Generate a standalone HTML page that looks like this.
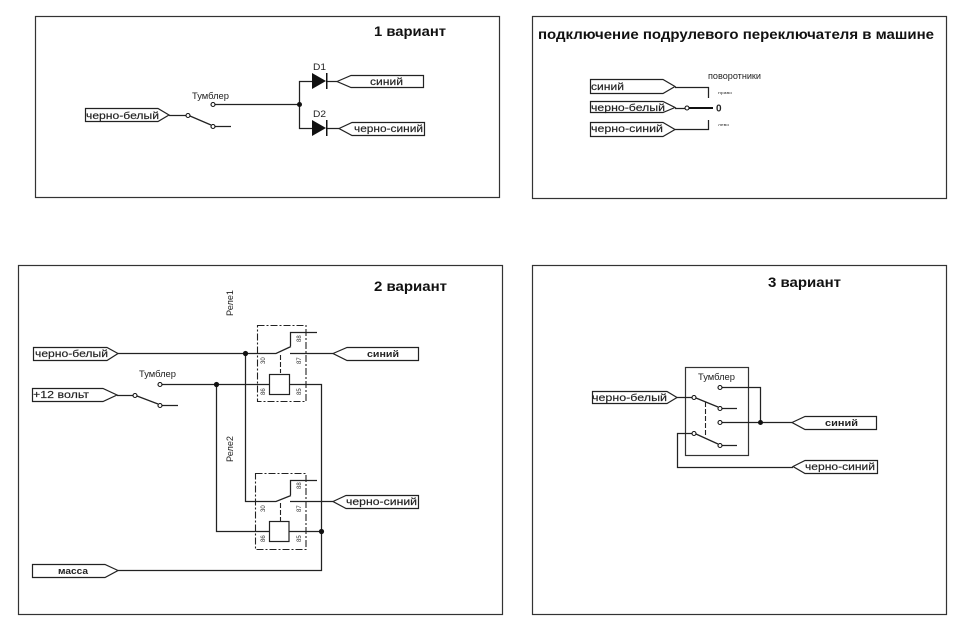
<!DOCTYPE html>
<html>
<head>
<meta charset="utf-8">
<style>
html,body{margin:0;padding:0;background:#fff;width:960px;height:630px;overflow:hidden}
svg{display:block}
text{font-family:"Liberation Sans",sans-serif;fill:#222}
.p{fill:none;stroke:#333;stroke-width:1.2}
.w{fill:none;stroke:#222;stroke-width:1.25}
.t{fill:#fff;stroke:#222;stroke-width:1.2}
.c{fill:#fff;stroke:#111;stroke-width:1.1}
.d{fill:none;stroke:#222;stroke-width:1.1;stroke-dasharray:7 2 2 2}
.h{fill:none;stroke:#222;stroke-width:1.1;stroke-dasharray:5 2}
.b{font-weight:bold;font-size:14px;fill:#111}
.l{font-size:10.5px;stroke:#222;stroke-width:.15}
.s{font-size:9px}
.x{font-size:6px;fill:#333}
</style>
</head>
<body>
<svg width="960" height="630" viewBox="0 0 960 630" xmlns="http://www.w3.org/2000/svg">
<rect width="960" height="630" fill="#fff"/>

<!-- frames -->
<rect class="p" x="35.5" y="16.5" width="464" height="181"/>
<rect class="p" x="532.5" y="16.5" width="414" height="182"/>
<rect class="p" x="18.5" y="265.5" width="484" height="349"/>
<rect class="p" x="532.5" y="265.5" width="414" height="349"/>

<!-- titles -->
<text class="b" x="374" y="36" textLength="72" lengthAdjust="spacingAndGlyphs">1 вариант</text>
<text class="b" x="538" y="39" textLength="396" lengthAdjust="spacingAndGlyphs">подключение подрулевого переключателя в машине</text>
<text class="b" x="374" y="291" textLength="73" lengthAdjust="spacingAndGlyphs">2 вариант</text>
<text class="b" x="768" y="287" textLength="73" lengthAdjust="spacingAndGlyphs">3 вариант</text>

<!-- ===== Panel 1 ===== -->
<polygon class="t" points="85.5,108.5 158,108.5 169,115 158,121.5 85.5,121.5"/>
<text class="l" x="86" y="119" textLength="73" lengthAdjust="spacingAndGlyphs">черно-белый</text>
<path class="w" d="M169 115.5H186M190 116L211 125M215 126.5H231M215 104.5H299.5M299.5 104.5V81.5H312M299.5 104.5V128.5H312M327 81.5H337M327 128.5H339"/>
<circle class="c" cx="188" cy="115.5" r="2"/>
<circle class="c" cx="213" cy="126.5" r="2"/>
<circle class="c" cx="213" cy="104.5" r="2"/>
<circle cx="299.5" cy="104.5" r="2.5" fill="#111"/>
<text class="s" x="192" y="99" textLength="37" lengthAdjust="spacingAndGlyphs">Тумблер</text>
<polygon points="312,73 326,81 312,89" fill="#111"/>
<rect x="326" y="73" width="1.5" height="16" fill="#111"/>
<polygon points="312,120 326,128 312,136" fill="#111"/>
<rect x="326" y="120" width="1.5" height="16" fill="#111"/>
<text class="s" x="313" y="70" textLength="13" lengthAdjust="spacingAndGlyphs">D1</text>
<text class="s" x="313" y="117" textLength="13" lengthAdjust="spacingAndGlyphs">D2</text>
<polygon class="t" points="337,81.5 351,75.5 423.5,75.5 423.5,87.5 351,87.5"/>
<text class="l" x="370" y="85" textLength="33" lengthAdjust="spacingAndGlyphs">синий</text>
<polygon class="t" points="339,128.5 352,122.5 424.5,122.5 424.5,135.5 352,135.5"/>
<text class="l" x="354" y="132" textLength="69" lengthAdjust="spacingAndGlyphs">черно-синий</text>

<!-- ===== Panel 2 ===== -->
<polygon class="t" points="590.5,79.5 663,79.5 675,86.5 663,93.5 590.5,93.5"/>
<text class="l" x="591" y="90" textLength="33" lengthAdjust="spacingAndGlyphs">синий</text>
<polygon class="t" points="590.5,101.5 663,101.5 675,107.5 663,112.5 590.5,112.5"/>
<text class="l" x="591" y="111" textLength="74" lengthAdjust="spacingAndGlyphs">черно-белый</text>
<polygon class="t" points="590.5,122.5 663,122.5 675,129.5 663,136.5 590.5,136.5"/>
<text class="l" x="591" y="132" textLength="72" lengthAdjust="spacingAndGlyphs">черно-синий</text>
<path class="w" d="M675 87.5H708.5V98M675 108.5H685M675 129.5H708.5V120"/>
<path d="M689 108H713" stroke="#111" stroke-width="2" fill="none"/>
<circle class="c" cx="687" cy="108" r="2"/>
<text class="s" x="708" y="79" textLength="53" lengthAdjust="spacingAndGlyphs">поворотники</text>
<text x="716" y="111.5" style="font-size:10px;font-weight:bold">0</text>
<text class="x" x="718" y="94" textLength="14" lengthAdjust="spacingAndGlyphs" style="font-size:4px">право</text>
<text class="x" x="718" y="126" textLength="11" lengthAdjust="spacingAndGlyphs" style="font-size:4px">лево</text>

<!-- ===== Panel 3 ===== -->
<polygon class="t" points="33.5,347.5 107,347.5 118,353.5 107,360.5 33.5,360.5"/>
<text class="l" x="35" y="357" textLength="73" lengthAdjust="spacingAndGlyphs">черно-белый</text>
<polygon class="t" points="32.5,388.5 103,388.5 117,395 103,401.5 32.5,401.5"/>
<text class="l" x="33" y="398" textLength="56" lengthAdjust="spacingAndGlyphs">+12 вольт</text>
<polygon class="t" points="32.5,564.5 105,564.5 118,570.5 105,577.5 32.5,577.5"/>
<text class="s" x="58" y="574" textLength="30" lengthAdjust="spacingAndGlyphs" style="font-weight:bold">масса</text>

<path class="w" d="M118 353.5H276L291 346.5M290.5 346V332.5H317M290 353.5H333"/>
<path class="w" d="M117 395.5H133M137 396L158 404M162 405.5H178"/>
<path class="w" d="M162 384.5H269M290 384.5H321.5V570.5H118"/>
<path class="w" d="M245.5 353.5V501.5H276L291 495.5M290.5 495V480.5H317M290 501.5H333"/>
<path class="w" d="M216.5 384.5V531.5H269M289 531.5H321.5"/>
<circle class="c" cx="135" cy="395.5" r="2"/>
<circle class="c" cx="160" cy="405.5" r="2"/>
<circle class="c" cx="160" cy="384.5" r="2"/>
<circle cx="245.5" cy="353.5" r="2.6" fill="#111"/>
<circle cx="216.5" cy="384.5" r="2.6" fill="#111"/>
<circle cx="321.5" cy="531.5" r="2.6" fill="#111"/>
<text class="s" x="139" y="377" textLength="37" lengthAdjust="spacingAndGlyphs">Тумблер</text>

<rect class="d" x="257.5" y="325.5" width="48.5" height="76"/>
<path class="h" d="M280.5 355V373"/>
<rect class="t" x="269.5" y="374.5" width="20" height="20"/>
<rect class="d" x="255.5" y="473.5" width="50.5" height="76"/>
<path class="h" d="M280.5 503V521"/>
<rect class="t" x="269.5" y="521.5" width="19.5" height="20"/>

<polygon class="t" points="333,353.5 347,347.5 418.5,347.5 418.5,360.5 347,360.5"/>
<text class="s" x="367" y="357" textLength="32" lengthAdjust="spacingAndGlyphs" style="font-weight:bold">синий</text>
<polygon class="t" points="333,501.5 346,495.5 418.5,495.5 418.5,508.5 346,508.5"/>
<text class="l" x="346" y="505" textLength="71" lengthAdjust="spacingAndGlyphs">черно-синий</text>

<text class="s" transform="translate(233,316) rotate(-90)" textLength="26" lengthAdjust="spacingAndGlyphs">Реле1</text>
<text class="s" transform="translate(233,462) rotate(-90)" textLength="26" lengthAdjust="spacingAndGlyphs">Реле2</text>

<g class="pins">
<text class="x" transform="translate(265,364) rotate(-90)">30</text>
<text class="x" transform="translate(301,364) rotate(-90)">87</text>
<text class="x" transform="translate(301,342) rotate(-90)">88</text>
<text class="x" transform="translate(265,395) rotate(-90)">86</text>
<text class="x" transform="translate(301,395) rotate(-90)">85</text>
<text class="x" transform="translate(265,512) rotate(-90)">30</text>
<text class="x" transform="translate(301,512) rotate(-90)">87</text>
<text class="x" transform="translate(301,489) rotate(-90)">88</text>
<text class="x" transform="translate(265,542) rotate(-90)">86</text>
<text class="x" transform="translate(301,542) rotate(-90)">85</text>
</g>

<!-- ===== Panel 4 ===== -->
<rect class="p" x="685.5" y="367.5" width="63" height="88"/>
<text class="s" x="698" y="380" textLength="37" lengthAdjust="spacingAndGlyphs">Тумблер</text>
<polygon class="t" points="592.5,391.5 667,391.5 677,397.5 667,403.5 592.5,403.5"/>
<text class="l" x="592" y="401" textLength="75" lengthAdjust="spacingAndGlyphs">черно-белый</text>
<path class="w" d="M677 397.5H692M696 398L718 407M722 408.5H737M722 387.5H760.5V422.5M722 422.5H792M692 433.5H677.5V467.5H793M696 434L718 444M722 445.5H737"/>
<path class="h" d="M705.5 402V437"/>
<circle class="c" cx="694" cy="397.5" r="2"/>
<circle class="c" cx="720" cy="408.5" r="2"/>
<circle class="c" cx="720" cy="387.5" r="2"/>
<circle class="c" cx="720" cy="422.5" r="2"/>
<circle class="c" cx="694" cy="433.5" r="2"/>
<circle class="c" cx="720" cy="445.5" r="2"/>
<circle cx="760.5" cy="422.5" r="2.5" fill="#111"/>
<polygon class="t" points="792,422.5 805,416.5 876.5,416.5 876.5,429.5 805,429.5"/>
<text class="s" x="825" y="426" textLength="33" lengthAdjust="spacingAndGlyphs" style="font-weight:bold">синий</text>
<polygon class="t" points="793,466.5 805,460.5 877.5,460.5 877.5,473.5 805,473.5"/>
<text class="l" x="805" y="470" textLength="70" lengthAdjust="spacingAndGlyphs">черно-синий</text>
</svg>
</body>
</html>
